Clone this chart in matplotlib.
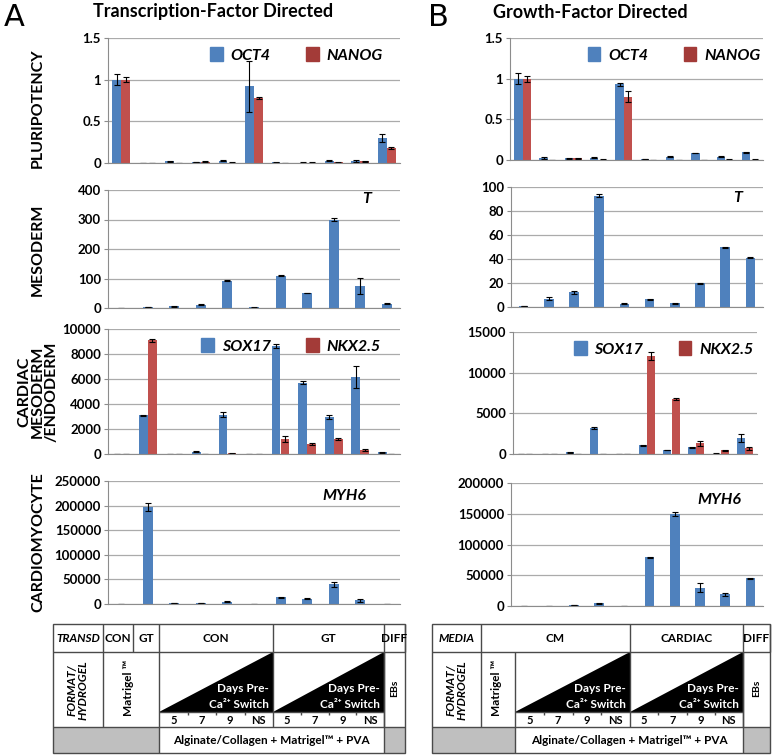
import matplotlib
matplotlib.use('Agg')
import matplotlib.pyplot as plt
from matplotlib.patches import Rectangle, Polygon, Patch
import numpy as np

plt.rcParams['font.family'] = ['Lato', 'DejaVu Sans']

W, H = 774, 756
BLUE = '#4F81BD'
RED = '#C0504D'
RED_LEG = '#A33B38'

# ---- data: panel A (transcription-factor directed), 11 conditions ----
a_oct4 = [1.0, 0.0, 0.02, 0.012, 0.03, 0.92, 0.01, 0.005, 0.03, 0.025, 0.30]
a_oct4_err = [0.065, 0.002, 0.008, 0.004, 0.01, 0.31, 0.004, 0.003, 0.01, 0.01, 0.05]
a_nanog = [1.0, 0.003, 0.003, 0.015, 0.005, 0.78, 0.001, 0.006, 0.01, 0.02, 0.18]
a_nanog_err = [0.03, 0.002, 0.002, 0.004, 0.003, 0.01, 0.001, 0.003, 0.004, 0.005, 0.01]
a_t = [0.5, 3, 6, 11, 93, 2, 109, 51, 300, 75, 15]
a_t_err = [0.3, 0.8, 1, 1.5, 2, 0.5, 2, 1, 6, 27, 1.5]
a_sox17 = [10, 3100, 10, 190, 3140, 10, 8670, 5720, 2950, 6170, 130]
a_sox17_err = [5, 60, 5, 30, 200, 5, 150, 100, 150, 850, 20]
a_nkx = [10, 9100, 10, 30, 50, 10, 1200, 820, 1200, 320, 20]
a_nkx_err = [5, 100, 5, 10, 10, 5, 250, 80, 80, 60, 5]
a_myh6 = [300, 197000, 1400, 2000, 4700, 200, 13500, 10800, 40000, 7400, 500]
a_myh6_err = [100, 8000, 300, 400, 600, 100, 800, 800, 5000, 3000, 100]

# ---- data: panel B (growth-factor directed), 10 conditions ----
b_oct4 = [1.0, 0.025, 0.02, 0.03, 0.93, 0.01, 0.04, 0.085, 0.04, 0.095]
b_oct4_err = [0.07, 0.01, 0.004, 0.004, 0.02, 0.003, 0.005, 0.005, 0.004, 0.005]
b_nanog = [1.0, 0.002, 0.02, 0.005, 0.78, 0.003, 0.002, 0.002, 0.005, 0.005]
b_nanog_err = [0.035, 0.001, 0.004, 0.002, 0.07, 0.001, 0.001, 0.001, 0.002, 0.002]
b_t = [0.8, 7, 12.2, 92.8, 2.8, 6.4, 3, 19.7, 49.7, 41]
b_t_err = [0.2, 1, 1.5, 1, 0.3, 0.4, 0.7, 0.5, 0.5, 0.5]
b_sox17 = [10, 10, 200, 3220, 10, 1070, 500, 830, 60, 1980]
b_sox17_err = [5, 5, 30, 100, 5, 60, 40, 60, 10, 500]
b_nkx = [10, 10, 30, 50, 10, 12100, 6740, 1320, 450, 700]
b_nkx_err = [5, 5, 10, 10, 5, 500, 100, 300, 50, 150]
b_myh6 = [200, 500, 1600, 4300, 200, 79000, 149600, 29800, 19000, 45000]
b_myh6_err = [100, 200, 300, 500, 100, 1000, 4000, 7000, 2000, 1000]

row_titles = ['PLURIPOTENCY', 'MESODERM', 'CARDIAC\nMESODERM\n/ENDODERM', 'CARDIOMYOCYTE']
days = ['5', '7', '9', 'NS']


def box(x0, y0, x1, y1):
    return [x0 / W, 1 - y1 / H, (x1 - x0) / W, (y1 - y0) / H]


def style(ax, ymax, step, n):
    ax.set_ylim(0, ymax)
    ax.set_xlim(-0.5, n - 0.5)
    ax.set_yticks(np.arange(0, ymax + step / 2, step))
    ax.yaxis.set_major_formatter(matplotlib.ticker.FuncFormatter(
        lambda v, p: ('%g' % v)))
    ax.set_xticks([])
    ax.grid(axis='y', color='#ABABAB', lw=0.9)
    ax.set_axisbelow(True)
    for s in ['top', 'right']:
        ax.spines[s].set_visible(False)
    ax.spines['left'].set_color('#8C8C8C')
    ax.spines['bottom'].set_color('#8C8C8C')
    ax.tick_params(axis='y', length=3, color='#8C8C8C', labelsize=9.5, pad=2)
    for lab in ax.get_yticklabels():
        lab.set_fontweight('bold')


def pair(ax, s1, e1, s2, e2):
    x = np.arange(len(s1))
    ekw = dict(elinewidth=0.8, capthick=0.8, ecolor='black')
    ax.bar(x - 0.17, s1, 0.33, color=BLUE, yerr=e1, capsize=2, error_kw=ekw)
    ax.bar(x + 0.17, s2, 0.33, color=RED, yerr=e2, capsize=2, error_kw=ekw)


def single(ax, s, e):
    x = np.arange(len(s))
    ekw = dict(elinewidth=0.8, capthick=0.8, ecolor='black')
    ax.bar(x, s, 0.38, color=BLUE, yerr=e, capsize=2, error_kw=ekw)


def legend(ax, names, x0):
    hs = [Patch(color=BLUE), Patch(color=RED_LEG)]
    ax.legend(hs, names, ncol=2, loc='upper left', bbox_to_anchor=(x0, 1.04),
              frameon=False, handlelength=0.8, handleheight=0.9,
              handletextpad=0.5, columnspacing=2.2,
              prop=dict(weight='bold', style='italic', size=11.5))


def gene(ax, txt, x, y):
    ax.text(x, y, txt, transform=ax.transAxes, fontsize=11.5, fontweight='bold',
            style='italic', ha='left', va='center')


fig = plt.figure(figsize=(W / 100, H / 100), dpi=100)

# panel A
ax = fig.add_axes(box(108, 38, 400, 163))
pair(ax, a_oct4, a_oct4_err, a_nanog, a_nanog_err)
style(ax, 1.5, 0.5, 11)
legend(ax, ['OCT4', 'NANOG'], 0.30)

ax = fig.add_axes(box(108, 190, 400, 308))
single(ax, a_t, a_t_err)
style(ax, 400, 100, 11)
gene(ax, 'T', 0.87, 0.92)

ax = fig.add_axes(box(108, 329, 400, 454))
pair(ax, a_sox17, a_sox17_err, a_nkx, a_nkx_err)
style(ax, 10000, 2000, 11)
legend(ax, ['SOX17', 'NKX2.5'], 0.27)

ax = fig.add_axes(box(108, 481, 400, 604))
single(ax, a_myh6, a_myh6_err)
style(ax, 250000, 50000, 11)
gene(ax, 'MYH6', 0.735, 0.88)

# panel B
ax = fig.add_axes(box(510, 38, 763, 160))
pair(ax, b_oct4, b_oct4_err, b_nanog, b_nanog_err)
style(ax, 1.5, 0.5, 10)
legend(ax, ['OCT4', 'NANOG'], 0.25)

ax = fig.add_axes(box(511, 187, 763, 307))
single(ax, b_t, b_t_err)
style(ax, 100, 20, 10)
gene(ax, 'T', 0.88, 0.91)

ax = fig.add_axes(box(513, 332, 757, 454))
pair(ax, b_sox17, b_sox17_err, b_nkx, b_nkx_err)
style(ax, 15000, 5000, 10)
legend(ax, ['SOX17', 'NKX2.5'], 0.19)

ax = fig.add_axes(box(511, 483, 763, 606))
single(ax, b_myh6, b_myh6_err)
style(ax, 200000, 50000, 10)
gene(ax, 'MYH6', 0.74, 0.86)

# overlay in pixel coordinates for titles, row labels and tables
ov = fig.add_axes([0, 0, 1, 1])
ov.set_xlim(0, W)
ov.set_ylim(H, 0)
ov.axis('off')
ov.patch.set_visible(False)

ov.text(4, 18, 'A', fontsize=22, family='DejaVu Sans', va='center', ha='left')
ov.text(93, 12, 'Transcription-Factor Directed', fontsize=13, fontweight='bold', va='center')
ov.text(428, 18, 'B', fontsize=22, family='DejaVu Sans', va='center', ha='left')
ov.text(493, 12, 'Growth-Factor Directed', fontsize=13, fontweight='bold', va='center')

for t, y in zip(row_titles, [108, 250, 392, 542]):
    ov.text(38, y, t, rotation=90, fontsize=11.5, fontweight='bold',
            ha='center', va='center', linespacing=1.0, multialignment='center')

LC = '#4A4A4A'
GRAY = '#BFBFBF'
top, hb, nr, fb, bot = 624, 652, 712, 727, 753


def line(x0, y0, x1, y1):
    ov.plot([x0, x1], [y0, y1], color=LC, lw=1.0, solid_capstyle='butt')


def wedge(x0, x1):
    ov.add_patch(Polygon([(x0, nr), (x1, nr), (x1, hb)], closed=True,
                         color='black', lw=0))
    ov.text(x1 - 4, 689, 'Days Pre-', color='white', fontsize=8.5,
            fontweight='bold', ha='right', va='center')
    ov.text(x1 - 4, 704, 'Ca²⁺ Switch', color='white', fontsize=8.5,
            fontweight='bold', ha='right', va='center')
    q = (x1 - x0) / 4
    for i, d in enumerate(days):
        ov.text(x0 + q * (i + 0.5), 720, d, fontsize=8, fontweight='bold',
                ha='center', va='center')
        if i > 0:
            line(x0 + q * i, nr, x0 + q * i, nr + 3)
    line(x0, nr, x1, nr)


def table(cols, head, left_head, fmt_span, wedges, diff_col, bottom_white):
    x0, x1 = cols[0], cols[-1]
    ov.add_patch(Rectangle((x0, fb), bottom_white[0] - x0, bot - fb, color=GRAY, lw=0))
    ov.add_patch(Rectangle((diff_col[0], fb), diff_col[1] - diff_col[0], bot - fb,
                           color=GRAY, lw=0))
    ov.text(sum(bottom_white) / 2, 740, 'Alginate/Collagen + Matrigel™ + PVA',
            fontsize=8.5, fontweight='bold', ha='center', va='center')
    for a, b in wedges:
        wedge(a, b)
    ov.add_patch(Rectangle((x0, top), x1 - x0, bot - top, fill=False, ec=LC, lw=1.0))
    line(x0, hb, x1, hb)
    line(x0, fb, x1, fb)
    for (a, b), lab in head:
        line(b, top, b, hb)
        ov.text((a + b) / 2, 638, lab, fontsize=8.5, fontweight='bold',
                ha='center', va='center', style='italic' if lab == left_head else 'normal')
    # format row dividers
    line(cols[1], hb, cols[1], fb)
    line(fmt_span[1], hb, fmt_span[1], bot)
    for a, b in wedges:
        line(b, hb, b, fb)
    line(diff_col[0], hb, diff_col[0], bot)
    ov.text((cols[0] + cols[1]) / 2, 690, 'FORMAT/\nHYDROGEL', rotation=90,
            fontsize=8.5, fontweight='bold', style='italic', ha='center', va='center',
            linespacing=1.0)
    ov.text(sum(fmt_span) / 2 - 2, 688, 'Matrigel ™', rotation=90, fontsize=8.5,
            fontweight='bold', ha='center', va='center')
    ov.text(sum(diff_col) / 2, 688, 'EBs', rotation=90, fontsize=7.5,
            fontweight='bold', ha='center', va='center')


# left table
table([53, 103, 405],
      [((53, 103), 'TRANSD'), ((103, 133), 'CON'), ((133, 159), 'GT'),
       ((159, 273), 'CON'), ((273, 384), 'GT'), ((384, 405), 'DIFF')],
      'TRANSD', (103, 159), [(159, 273), (273, 384)], (384, 405), (159, 384))

# right table
table([432, 481, 770],
      [((432, 481), 'MEDIA'), ((481, 630), 'CM'), ((630, 743), 'CARDIAC'),
       ((743, 770), 'DIFF')],
      'MEDIA', (481, 515), [(515, 630), (630, 743)], (743, 770), (515, 743))

fig.savefig('out.png', dpi=100)
